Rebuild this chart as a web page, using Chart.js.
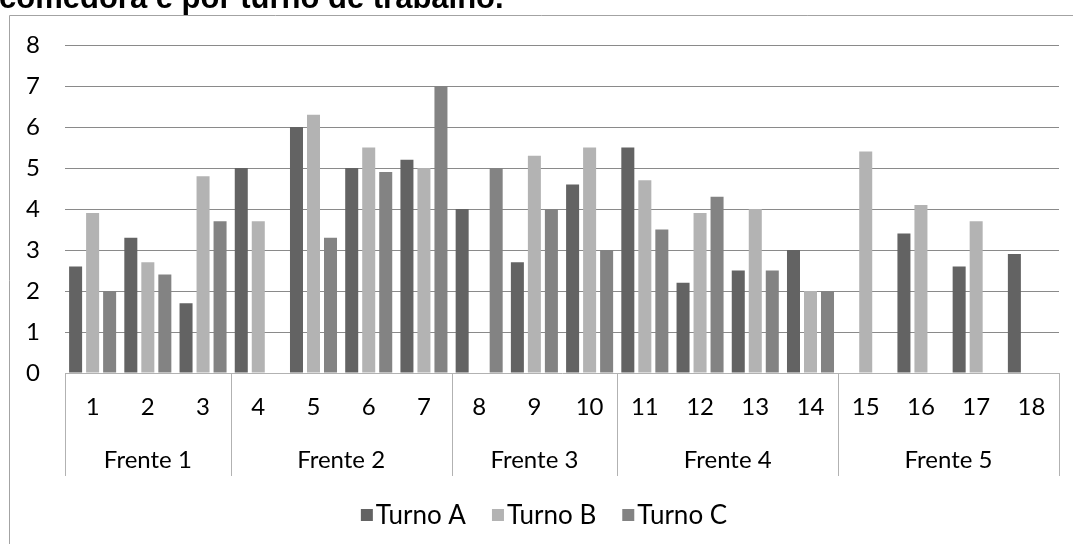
<!DOCTYPE html>
<html>
<head>
<meta charset="utf-8">
<script src="https://cdn.jsdelivr.net/npm/chart.js@4"></script>
<style>
  html, body { margin: 0; padding: 0; background: #fff; }
  #wrap { width: 1073px; height: 544px; position: relative; overflow: hidden; }
</style>
</head>
<body>
<div id="wrap"><canvas id="c" width="1073" height="544"></canvas></div>
<script>
// Comedoras (1–18) grouped by frente, one bar per turno
const categories = ['1','2','3','4','5','6','7','8','9','10','11','12','13','14','15','16','17','18'];
const frentes = ['Frente 1','Frente 2','Frente 3','Frente 4','Frente 5'];
const frenteSizes = [3, 4, 3, 4, 4];
const seriesNames = ['Turno A', 'Turno B', 'Turno C'];
const turnoA = [2.6, 3.3, 1.7, 5, 6, 5, 5.2, 4, 2.7, 4.6, 5.5, 2.2, 2.5, 3, null, 3.4, 2.6, 2.9];
const turnoB = [3.9, 2.7, 4.8, 3.7, 6.3, 5.5, 5, null, 5.3, 5.5, 4.7, 3.9, 4, 2, 5.4, 4.1, 3.7, null];
const turnoC = [2, 2.4, 3.7, null, 3.3, 4.9, 7, 5, 4, 3, 3.5, 4.3, 2.5, 2, null, null, null, null];
const yMin = 0, yMax = 8, yStep = 1;
const titleText = 'comedora e por turno de trabalho.';

const colors = ['#636363', '#b3b3b3', '#838383'];
const labelFont = 'Lato, "Open Sans", sans-serif';
const labelSize = 24;
const legendSize = 26;

// Frame, title, two-level category labels and legend
const decorations = {
  id: 'decorations',
  afterDraw(chart) {
    const ctx = chart.ctx;
    const x = chart.scales.x;
    const area = chart.chartArea;
    ctx.save();

    // outer frame (top and left edges visible)
    ctx.strokeStyle = '#a3a3a3';
    ctx.lineWidth = 1;
    ctx.beginPath();
    ctx.moveTo(9.5, 560);
    ctx.lineTo(9.5, 15.5);
    ctx.lineTo(1080, 15.5);
    ctx.stroke();

    // title
    ctx.fillStyle = '#000';
    ctx.font = 'bold 31px "Liberation Sans", Arial, sans-serif';
    ctx.textAlign = 'left';
    ctx.textBaseline = 'alphabetic';
    ctx.fillText(titleText, -1, 8);

    // frente separators and labels
    const half = (x.getPixelForValue(1) - x.getPixelForValue(0)) / 2;
    ctx.strokeStyle = '#b2b2b2';
    ctx.fillStyle = '#000';
    ctx.font = labelSize + 'px ' + labelFont;
    ctx.textAlign = 'center';
    ctx.textBaseline = 'middle';
    let start = 0;
    const bounds = [Math.round(area.left) + 0.5];
    frenteSizes.forEach((n, gi) => {
      const end = start + n - 1;
      const left = x.getPixelForValue(start) - half;
      const right = x.getPixelForValue(end) + half;
      bounds.push(Math.round(right) + 0.5);
      ctx.fillText(frentes[gi], (left + right) / 2, 460);
      start += n;
    });
    ctx.beginPath();
    bounds.forEach(bx => {
      ctx.moveTo(bx, area.bottom);
      ctx.lineTo(bx, 476);
    });
    ctx.stroke();

    // legend
    ctx.font = legendSize + 'px ' + labelFont;
    ctx.textAlign = 'left';
    const box = 12, gap = 3, spacing = 26;
    const widths = seriesNames.map(s => box + gap + ctx.measureText(s).width);
    const total = widths.reduce((a, b) => a + b, 0) + spacing * (seriesNames.length - 1);
    let lx = 544 - total / 2;
    const ly = 515;
    seriesNames.forEach((s, i) => {
      ctx.fillStyle = colors[i];
      ctx.fillRect(lx, ly - box / 2, box, box);
      ctx.fillStyle = '#000';
      ctx.fillText(s, lx + box + gap, ly + 1);
      lx += widths[i] + spacing;
    });

    ctx.restore();
  }
};

new Chart(document.getElementById('c'), {
  type: 'bar',
  data: {
    labels: categories,
    datasets: [turnoA, turnoB, turnoC].map((d, i) => ({
      label: seriesNames[i],
      data: d,
      backgroundColor: colors[i],
      borderWidth: 0,
      categoryPercentage: 0.924,
      barPercentage: 0.765
    }))
  },
  options: {
    responsive: false,
    animation: false,
    layout: { padding: { left: 0, right: 14, top: 45, bottom: 0 } },
    plugins: {
      legend: { display: false },
      tooltip: { enabled: false },
      title: { display: false }
    },
    scales: {
      x: {
        grid: { display: false, drawTicks: false },
        border: { display: true, color: '#b2b2b2', width: 1 },
        ticks: {
          color: '#000',
          font: { family: labelFont, size: labelSize },
          padding: 20,
          maxRotation: 0,
          autoSkip: false
        },
        afterFit(scale) { scale.height = 171; }
      },
      y: {
        min: yMin,
        max: yMax,
        grid: {
          drawTicks: false,
          color: ctx => ctx.tick && ctx.tick.value === 0 ? 'rgba(0,0,0,0)' : '#8a8a8a',
          lineWidth: 1
        },
        border: { display: false },
        ticks: {
          stepSize: yStep,
          color: '#000',
          font: { family: labelFont, size: labelSize },
          padding: 25
        },
        afterFit(scale) { scale.width = 65; }
      }
    }
  },
  plugins: [decorations]
});
</script>
</body>
</html>
